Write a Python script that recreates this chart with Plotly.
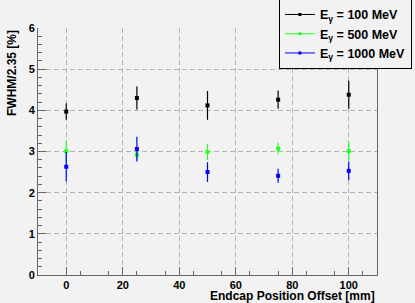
import plotly.graph_objects as go

offsets = [0, 25, 50, 75, 100]
e100 = [3.97, 4.30, 4.12, 4.26, 4.38]
e100_err = [0.20, 0.28, 0.35, 0.22, 0.34]
e500 = [3.01, 2.92, 2.99, 3.07, 3.01]
e500_err = [0.25, 0.10, 0.20, 0.14, 0.22]
e1000 = [2.63, 3.06, 2.50, 2.41, 2.53]
e1000_err = [0.36, 0.30, 0.24, 0.17, 0.23]

series = [
    ("E<sub>γ</sub> = 100 MeV", e100, e100_err, "#000000"),
    ("E<sub>γ</sub> = 500 MeV", e500, e500_err, "#22ff22"),
    ("E<sub>γ</sub> = 1000 MeV", e1000, e1000_err, "#0000ff"),
]

bg = "#f2f2f2"
font = "Liberation Sans, Arial, sans-serif"
axcol = "#666666"

fig = go.Figure()
for name, vals, errs, col in series:
    fig.add_trace(go.Scatter(
        x=offsets, y=vals, name=name, mode="markers", showlegend=False,
        marker=dict(symbol="square", size=4, color=col),
        error_y=dict(type="data", array=errs, visible=True, color=col, thickness=1.2, width=0),
    ))
for name, vals, errs, col in series:
    fig.add_trace(go.Scatter(
        x=[None], y=[None], name=name, mode="lines+markers",
        marker=dict(symbol="square", size=3, color=col),
        line=dict(color=col, width=1),
    ))

fig.update_layout(
    width=415, height=303,
    paper_bgcolor=bg, plot_bgcolor=bg,
    margin=dict(l=38, r=38, t=28, b=28, autoexpand=False),
    font=dict(family=font, size=12, color="black"),
    showlegend=True,
    legend=dict(
        x=1.103, y=1.118, xanchor="right", yanchor="top",
        bgcolor=bg, bordercolor="black", borderwidth=1,
        font=dict(family=font, size=12.5, color="black", weight="bold"),
        itemwidth=30, tracegroupgap=0,
    ),
    xaxis=dict(
        range=[-10, 110], showgrid=True, gridcolor="#b4b4b4", griddash="5px,3px", gridwidth=1,
        tickvals=[0, 20, 40, 60, 80, 100], ticks="inside", ticklen=8, tickcolor=axcol,
        showline=True, linecolor=axcol, linewidth=1, zeroline=False,
        tickfont=dict(family=font, size=11, weight="bold"),
        minor=dict(tickvals=[5, 15, 25, 35, 45, 55, 65, 75, 85, 95, 105], ticks="inside", ticklen=4, tickcolor=axcol, showgrid=False),
    ),
    yaxis=dict(
        range=[0, 6], showgrid=True, gridcolor="#b4b4b4", griddash="5px,3px", gridwidth=1,
        tickvals=[0, 1, 2, 3, 4, 5, 6], ticks="inside", ticklen=8, tickcolor=axcol,
        showline=True, linecolor=axcol, linewidth=1, mirror=True, zeroline=False,
        tickfont=dict(family=font, size=11, weight="bold"),
        minor=dict(dtick=0.2, ticks="inside", ticklen=4, tickcolor=axcol, showgrid=False),
    ),
    annotations=[
        dict(text="<b>Endcap Position Offset [mm]</b>", xref="paper", yref="paper",
             x=1.0, y=0, xanchor="right", yanchor="middle", yshift=-21, showarrow=False,
             font=dict(family=font, size=12)),
        dict(text="<b>FWHM/2.35 [%]</b>", xref="paper", yref="paper",
             x=0, y=1.0, xanchor="center", yanchor="top", xshift=-26, showarrow=False,
             textangle=-90, font=dict(family=font, size=12)),
    ],
)

fig.write_html("out.html", config={"displayModeBar": False},
               post_script="document.body.style.margin='0px';document.body.style.overflow='hidden';")
